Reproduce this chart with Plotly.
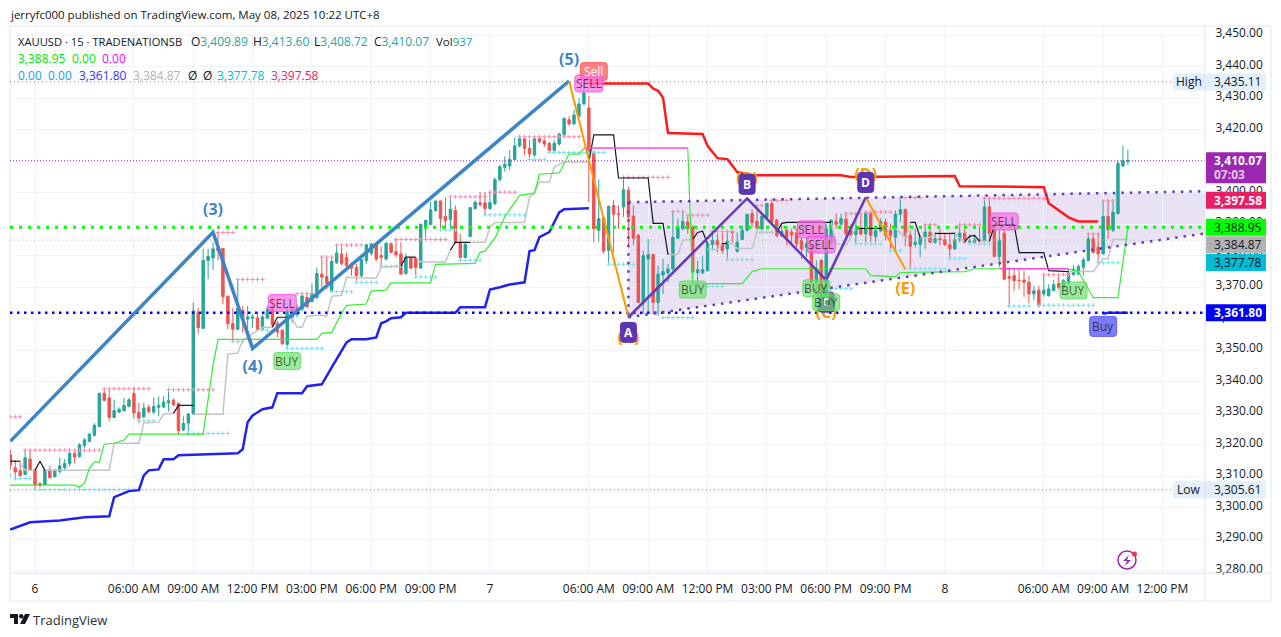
import plotly.graph_objects as go

FONT = "Open Sans"
UP = "#26a69a"
DOWN = "#ef5350"

# 15 minute bars, bar 0 is the "6" session label
bars = list(range(-5, 222))
opens = [
    3316.7, 3312.6, 3311.7, 3310.5, 3315.4,
    3311.9, 3307.6, 3307.3, 3311.9, 3309.8, 3311.4, 3312.6, 3314.0, 3317.2, 3316.2,
    3319.7, 3321.0, 3322.9, 3325.7, 3336.3, 3334.8, 3328.6, 3330.3, 3330.7, 3332.1,
    3336.2, 3330.2, 3328.8, 3331.8, 3330.3, 3331.8, 3331.9, 3333.2, 3334.1, 3333.1,
    3324.6, 3326.8, 3329.7, 3362.0, 3356.9, 3378.4, 3379.2, 3382.4, 3382.2, 3367.1,
    3358.4, 3356.6, 3362.6, 3359.8, 3360.1, 3360.2, 3356.6, 3360.1, 3363.7, 3358.5,
    3356.3, 3351.8, 3360.3, 3361.2, 3363.0, 3366.7, 3365.4, 3366.7, 3374.1, 3373.3,
    3368.8, 3377.7, 3380.5, 3379.4, 3377.3, 3376.2, 3373.6, 3378.4, 3380.7, 3383.4,
    3380.0, 3378.9, 3383.7, 3381.2, 3380.5, 3374.3, 3379.2, 3379.1, 3376.0, 3389.5,
    3389.9, 3394.3, 3397.3, 3392.4, 3391.4, 3394.3, 3384.2, 3379.4, 3386.0, 3394.9,
    3396.7, 3396.7, 3394.9, 3396.5, 3404.1, 3408.0, 3408.4, 3410.5, 3414.8, 3417.1,
    3414.0, 3411.9, 3417.1, 3416.4, 3415.6, 3413.3, 3415.4, 3418.3, 3423.1, 3421.8,
    3424.3, 3428.1, 3426.8, 3412.9, 3388.0, 3392.0, 3381.6, 3395.9, 3393.3, 3395.4,
    3400.7, 3392.5, 3386.4, 3365.1, 3378.9, 3380.3, 3365.1, 3373.8, 3374.5, 3375.7,
    3385.5, 3388.5, 3390.6, 3389.0, 3374.5, 3374.5, 3375.2, 3383.5, 3384.8, 3383.7,
    3382.1, 3387.7, 3381.3, 3385.1, 3388.0, 3393.3, 3390.8, 3388.5, 3392.2, 3396.5,
    3391.2, 3386.4, 3388.0, 3387.4, 3387.2, 3384.8, 3382.6, 3383.4, 3371.3, 3378.4,
    3368.3, 3384.2, 3390.8, 3389.9, 3391.5, 3387.8, 3386.7, 3388.5, 3386.9, 3393.5,
    3386.0, 3387.8, 3390.6, 3388.0, 3385.8, 3393.1, 3394.6, 3386.4, 3383.5, 3383.5,
    3385.8, 3387.4, 3384.2, 3385.3, 3385.0, 3383.4, 3382.1, 3385.0, 3387.1, 3384.2,
    3384.2, 3385.0, 3384.8, 3395.4, 3388.0, 3379.7, 3387.1, 3373.3, 3373.6, 3372.2,
    3372.2, 3371.5, 3367.8, 3369.0, 3367.8, 3367.2, 3368.8, 3371.1, 3369.7, 3371.2,
    3373.9, 3374.1, 3376.3, 3378.4, 3385.3, 3382.6, 3380.5, 3392.4, 3388.0, 3393.3,
    3408.4, 3409.89,
]
highs = [
    3318.3, 3315.1, 3314.6, 3318.0, 3317.8,
    3312.4, 3308.0, 3312.2, 3313.3, 3312.2, 3315.8, 3315.4, 3317.8, 3318.0, 3320.4,
    3322.0, 3323.6, 3326.8, 3336.4, 3337.4, 3337.4, 3334.2, 3331.8, 3334.8, 3334.8,
    3338.3, 3333.2, 3333.2, 3332.6, 3335.0, 3335.3, 3335.3, 3337.1, 3334.6, 3333.2,
    3328.9, 3330.0, 3365.1, 3363.3, 3382.1, 3382.1, 3384.2, 3387.4, 3382.3, 3367.2,
    3363.3, 3372.2, 3364.0, 3364.0, 3361.4, 3361.9, 3361.2, 3364.0, 3366.5, 3359.2,
    3356.6, 3364.0, 3364.0, 3364.5, 3367.4, 3368.3, 3371.1, 3376.2, 3379.6, 3379.4,
    3379.4, 3383.7, 3383.7, 3381.0, 3377.8, 3377.3, 3378.9, 3383.7, 3383.9, 3384.2,
    3382.9, 3384.2, 3384.2, 3385.3, 3384.2, 3380.7, 3379.4, 3379.4, 3390.1, 3391.5,
    3397.0, 3397.5, 3397.5, 3398.4, 3398.4, 3395.9, 3386.9, 3384.2, 3395.4, 3397.5,
    3400.2, 3400.2, 3400.2, 3404.8, 3408.7, 3411.4, 3413.5, 3417.5, 3418.0, 3417.5,
    3416.7, 3417.5, 3417.5, 3417.5, 3416.1, 3416.7, 3419.0, 3423.9, 3424.3, 3426.2,
    3430.0, 3435.11, 3430.7, 3412.9, 3404.1, 3392.2, 3395.9, 3397.5, 3395.9, 3404.4,
    3401.8, 3395.9, 3386.9, 3381.6, 3385.3, 3380.5, 3376.8, 3378.9, 3377.3, 3394.0,
    3391.7, 3394.0, 3392.8, 3389.6, 3378.4, 3380.0, 3384.2, 3388.0, 3386.9, 3387.4,
    3388.0, 3388.0, 3387.4, 3389.6, 3393.3, 3394.7, 3394.4, 3393.3, 3396.8, 3397.9,
    3391.7, 3389.6, 3389.0, 3388.5, 3388.5, 3385.8, 3385.8, 3383.4, 3378.4, 3378.9,
    3390.1, 3391.5, 3393.3, 3393.3, 3393.8, 3390.1, 3393.3, 3393.3, 3394.1, 3393.8,
    3389.2, 3391.7, 3391.7, 3390.1, 3394.3, 3398.4, 3394.9, 3388.0, 3388.5, 3386.4,
    3389.6, 3390.1, 3387.4, 3388.5, 3387.1, 3387.1, 3387.4, 3390.1, 3390.1, 3386.7,
    3386.7, 3389.6, 3398.4, 3398.4, 3390.1, 3388.0, 3388.5, 3376.3, 3376.0, 3375.7,
    3375.2, 3373.6, 3370.4, 3370.4, 3374.1, 3370.9, 3372.2, 3374.1, 3372.5, 3375.7,
    3377.0, 3377.1, 3379.5, 3386.9, 3387.1, 3387.1, 3397.5, 3397.8, 3397.8, 3410.1,
    3414.8, 3413.60,
]
lows = [
    3311.9, 3308.7, 3309.8, 3310.3, 3311.6,
    3305.61, 3306.4, 3307.1, 3309.0, 3309.5, 3310.8, 3311.9, 3313.0, 3314.0, 3315.8,
    3317.8, 3320.7, 3322.5, 3325.5, 3333.7, 3327.3, 3328.4, 3330.0, 3330.5, 3331.8,
    3328.2, 3326.8, 3328.4, 3330.0, 3329.7, 3328.9, 3331.6, 3330.5, 3332.1, 3323.3,
    3324.2, 3323.1, 3329.5, 3355.2, 3356.6, 3372.5, 3375.4, 3378.4, 3364.6, 3356.6,
    3352.7, 3356.3, 3355.5, 3356.6, 3357.1, 3356.3, 3356.3, 3359.8, 3357.1, 3354.1,
    3351.6, 3350.5, 3358.7, 3360.5, 3362.4, 3363.3, 3365.1, 3366.1, 3369.9, 3369.3,
    3368.3, 3377.3, 3376.8, 3375.7, 3373.6, 3371.5, 3373.1, 3377.3, 3380.0, 3378.1,
    3376.5, 3378.4, 3380.7, 3379.4, 3373.9, 3373.9, 3375.7, 3373.6, 3375.7, 3385.3,
    3389.5, 3393.8, 3388.5, 3388.0, 3388.0, 3383.7, 3378.4, 3379.2, 3385.8, 3394.5,
    3395.4, 3392.7, 3394.5, 3395.9, 3403.4, 3406.6, 3407.1, 3410.3, 3414.3, 3411.9,
    3410.3, 3411.4, 3415.6, 3414.5, 3412.6, 3412.2, 3414.8, 3417.9, 3421.1, 3421.4,
    3423.9, 3427.8, 3397.0, 3384.2, 3384.2, 3380.5, 3377.1, 3381.0, 3388.5, 3392.2,
    3382.8, 3383.2, 3365.0, 3361.7, 3361.4, 3361.4, 3360.8, 3367.8, 3371.5, 3375.2,
    3385.3, 3388.0, 3386.9, 3371.0, 3370.4, 3374.1, 3374.9, 3381.6, 3381.0, 3380.5,
    3378.4, 3384.2, 3381.0, 3384.8, 3387.7, 3389.0, 3388.0, 3388.0, 3391.9, 3390.1,
    3385.8, 3385.8, 3383.2, 3383.7, 3382.6, 3378.9, 3379.5, 3371.0, 3367.2, 3367.2,
    3365.1, 3383.7, 3388.5, 3389.6, 3385.8, 3385.8, 3383.7, 3386.4, 3384.2, 3384.2,
    3384.2, 3387.4, 3384.8, 3381.6, 3381.0, 3390.6, 3382.9, 3375.7, 3382.6, 3379.4,
    3382.1, 3383.9, 3383.7, 3383.2, 3382.9, 3378.9, 3381.8, 3384.2, 3383.9, 3383.5,
    3383.7, 3383.9, 3384.6, 3384.8, 3379.5, 3376.3, 3372.2, 3363.5, 3368.8, 3369.3,
    3366.9, 3364.8, 3365.8, 3363.5, 3366.9, 3367.0, 3368.8, 3369.3, 3369.0, 3370.4,
    3373.6, 3373.9, 3373.6, 3378.2, 3380.5, 3377.5, 3380.3, 3385.3, 3387.4, 3393.1,
    3408.0, 3408.72,
]
closes = [
    3313.5, 3311.3, 3310.1, 3315.8, 3311.9,
    3307.1, 3307.1, 3311.9, 3309.5, 3311.9, 3313.2, 3314.0, 3317.2, 3316.0, 3319.9,
    3321.5, 3323.3, 3326.1, 3336.3, 3334.0, 3328.6, 3330.8, 3331.2, 3332.4, 3334.2,
    3330.0, 3328.4, 3331.6, 3330.5, 3332.1, 3332.4, 3333.5, 3333.9, 3332.6, 3324.4,
    3326.7, 3329.7, 3362.4, 3357.1, 3378.4, 3379.7, 3382.1, 3381.6, 3366.9, 3358.4,
    3356.6, 3363.3, 3359.8, 3360.5, 3360.5, 3356.6, 3360.5, 3363.0, 3358.0, 3355.7,
    3352.0, 3361.9, 3363.0, 3363.3, 3367.2, 3363.7, 3367.9, 3374.3, 3373.1, 3371.2,
    3378.1, 3380.8, 3377.5, 3376.8, 3376.0, 3373.6, 3378.7, 3383.4, 3383.7, 3378.9,
    3379.4, 3383.9, 3381.0, 3380.2, 3374.1, 3379.4, 3376.0, 3376.2, 3389.9, 3391.1,
    3394.5, 3397.3, 3391.7, 3391.1, 3394.7, 3384.2, 3379.4, 3383.5, 3395.2, 3396.9,
    3396.2, 3394.9, 3396.8, 3404.1, 3408.2, 3409.0, 3410.5, 3414.8, 3417.1, 3414.0,
    3412.2, 3417.1, 3416.1, 3415.4, 3413.3, 3415.6, 3418.6, 3423.5, 3421.8, 3424.6,
    3428.1, 3431.6, 3412.9, 3388.5, 3391.7, 3381.4, 3395.6, 3393.1, 3393.0, 3400.9,
    3392.2, 3385.5, 3365.1, 3380.0, 3380.3, 3365.1, 3374.1, 3374.9, 3375.7, 3385.8,
    3389.0, 3390.8, 3388.5, 3374.7, 3375.5, 3375.5, 3383.7, 3384.8, 3383.4, 3381.6,
    3384.5, 3387.2, 3384.2, 3388.0, 3393.0, 3390.4, 3388.8, 3392.5, 3396.5, 3390.6,
    3386.4, 3387.6, 3385.8, 3386.6, 3383.7, 3382.1, 3383.7, 3371.5, 3375.5, 3367.8,
    3388.5, 3391.2, 3389.9, 3391.7, 3386.9, 3386.4, 3388.5, 3386.9, 3393.5, 3386.4,
    3388.0, 3390.8, 3386.4, 3386.4, 3393.1, 3394.6, 3385.8, 3382.9, 3384.2, 3385.8,
    3387.4, 3384.2, 3385.3, 3385.1, 3383.5, 3382.1, 3385.0, 3387.1, 3384.2, 3384.6,
    3385.0, 3384.6, 3395.4, 3387.1, 3379.7, 3384.8, 3372.5, 3372.8, 3372.0, 3372.0,
    3371.5, 3367.8, 3368.8, 3364.0, 3369.0, 3369.4, 3370.7, 3369.9, 3372.0, 3374.4,
    3375.7, 3376.5, 3378.6, 3385.3, 3381.0, 3380.5, 3392.4, 3388.2, 3393.8, 3409.2,
    3410.1, 3410.07,
]

# indicator lines
slow_x = [-5, -1, 5, 10, 15, 16, 19, 21, 22, 23, 25, 26, 28, 29, 41, 42, 43, 44, 46, 48, 49, 54, 55, 58,
          60, 63, 64, 67, 69, 70, 71, 72, 74, 75, 85, 86, 91, 92, 94, 96, 99, 100, 101, 102, 104, 106, 107, 112,
          None, 216, 217, 221]
slow_y = [3293.0, 3295.3, 3295.9, 3296.9, 3297.2, 3303.3, 3305.2, 3305.5, 3310.2, 3311.8, 3312.1, 3315.3,
          3315.3, 3316.6, 3317.2, 3318.5, 3327.1, 3329.2, 3331.2, 3331.8, 3336.3, 3336.3, 3338.5, 3339.1,
          3344.5, 3352.4, 3353.4, 3353.4, 3354.0, 3358.5, 3359.1, 3360.1, 3360.4, 3361.8, 3361.8, 3363.6,
          3363.6, 3369.2, 3369.9, 3370.8, 3371.5, 3381.4, 3381.7, 3385.8, 3387.4, 3393.7, 3394.7, 3395.0,
          None, 3361.5, 3361.8, 3361.8]

red_x = [112, 124, 125, 126, 127, 128, 135, 136, 138, 140, 142, 145, 163, 165, 186, 187, 204, 205, 209, 211, 215]
red_y = [3434.6, 3434.6, 3433.0, 3432.3, 3430.1, 3418.9, 3418.6, 3414.8, 3410.9, 3410.6, 3406.5, 3405.5,
         3405.5, 3404.9, 3405.2, 3402.0, 3401.7, 3396.6, 3392.1, 3390.8, 3390.8]

green_x = [-5, 8, 9, 10, 11, 12, 13, 14, 16, 18, 19, 34, 36, 37, 57, 58, 60, 62, 63, 67, 68, 71, 72, 80, 81,
           89, 90, 91, 93, 95, 98, 101, 102, 106, 108, 110, 111,
           None, 132, 133, 143, 145, 147, 168, 169, 174, 175, 188, 190, 195,
           None, 209, 211, 214, 219, 221]
green_y = [3307.1, 3307.1, 3306.5, 3307.7, 3312.5, 3314.4, 3314.4, 3320.1, 3320.4, 3321.4, 3323.3, 3323.3,
           3345.2, 3353.4, 3353.4, 3355.3, 3355.6, 3361.7, 3364.2, 3364.6, 3368.7, 3369.0, 3371.3, 3371.3,
           3377.2, 3377.5, 3381.0, 3381.4, 3385.5, 3392.4, 3399.1, 3399.8, 3405.8, 3406.2, 3412.2, 3412.2, 3414.1,
           None, 3414.1, 3371.1, 3371.1, 3374.9, 3375.8, 3375.8, 3373.6, 3373.3, 3374.6, 3374.9, 3375.8, 3375.8,
           None, 3375.8, 3374.9, 3366.6, 3366.6, 3388.95]

magenta_x = [111, 132, None, 195, 209]
magenta_y = [3414.1, 3414.1, None, 3375.8, 3375.8]

gray_x = [-3, -2, 0, None, 2, 15, 16, 21, 22, 25, 26, 28, None, 32, 38, 39, 41, 42, 46, 48, None, 51, 52, 53,
          54, 55, 58, 59, 60, 62, 63, 69, 70, 74, None, 77, 78, 83, 84, None, 88, 91, 92, 93, 99, 100, 101, 102,
          104, 105, 107, 112, None, 128, 130, 131, 132, 133, None, 136, 138, 139, None, 140, 141, 142, 145, 146,
          150, None, 161, 162, 164, 166, None, 172, 174, 176, 177, None, 179, 181, 182, None, 186, 187, 188,
          None, 191, 193, None, 209, 214, 216, 217, 218, 221]
gray_y = [3314.0, 3311.8, 3311.8, None, 3311.8, 3311.8, 3320.4, 3320.4, 3326.8, 3327.1, 3329.6, 3329.9, None,
          3329.6, 3329.6, 3348.7, 3349.0, 3353.1, 3357.2, 3357.2, None, 3360.2, 3360.2, 3357.2, 3357.2, 3360.7,
          3361.1, 3360.7, 3367.1, 3367.4, 3373.1, 3372.8, 3376.3, 3376.6, None, 3379.5, 3377.9, 3377.9, 3381.7,
          None, 3384.2, 3384.2, 3388.9, 3390.5, 3390.5, 3398.5, 3399.8, 3403.3, 3403.3, 3408.1, 3409.7, 3409.7,
          None, 3380.3, 3380.3, 3384.8, 3385.1, 3385.1, None, 3381.9, 3381.9, 3383.8, None, 3383.8, 3383.8,
          3382.2, 3382.2, 3387.3, 3387.3, None, 3390.5, 3383.8, 3383.2, 3388.6, None, 3388.6, 3388.6, 3385.7,
          3390.5, None, 3385.7, 3385.7, 3387.0, None, 3387.0, 3385.4, 3384.5, None, 3384.5, 3384.5, None,
          3374.9, 3374.9, 3379.0, 3379.0, 3385.1, 3385.1]

black_x = [-5, -3, None, 0, 1, 2, None, 28, 29, 32, None, 48, 49, 51, None, 74, 75, 77, None, 84, 85, 88, None,
           112, 113, 117, 118, 124, 125, 127, 128, None, 133, 134, 135, 136, None, 139, 140, None, 150, 151, 152,
           161, None, 166, 172, None, 177, 178, 179, None, 182, 186, None, 188, 189, 190, 191, None,
           193, 194, 198, 199, 204, 205, 209]
black_y = [3314.7, 3314.7, None, 3311.8, 3314.7, 3311.8, None, 3329.9, 3332.4, 3332.4, None, 3357.2, 3360.4,
           3360.4, None, 3376.6, 3379.5, 3379.5, None, 3381.7, 3384.2, 3384.2, None, 3409.7, 3418.3, 3418.3,
           3404.6, 3404.6, 3390.2, 3390.2, 3380.3, None, 3385.1, 3387.3, 3387.7, 3383.8, None, 3383.8, 3383.8,
           None, 3387.3, 3390.2, 3390.5, 3390.5, None, 3388.6, 3388.6, None, 3390.5, 3390.5, 3385.7, None,
           3387.0, 3387.0, None, 3384.5, 3386.1, 3386.4, 3384.5, None, 3384.5, 3389.6, 3389.9, 3380.9, 3380.9,
           3375.2, 3374.9]

# drawn waves
wave_blue_x = [-5, 36, 44, 108]
wave_blue_y = [3321.0, 3387.4, 3350.5, 3435.4]
wave_orange_x = [108, 120, None, 168, 176]
wave_orange_y = [3435.4, 3360.4, None, 3398.5, 3375.6]
wave_purple_x = [120, 144, 160, 168]
wave_purple_y = [3360.4, 3398.1, 3372.2, 3398.5]

wedge_x = [120, 236.6, 236.6, 120]
wedge_y = [3396.9, 3400.4, 3387.0, 3360.4]
wedge_left = 120

wave_label_x = [36, 44, 108]
wave_label_y = [3394.0, 3344.2, 3441.7]
wave_label_text = ["(3)", "(4)", "(5)"]
pattern_label_x = [120, 144, 160, 168, 176]
pattern_label_y = [3353.4, 3403.9, 3361.4, 3405.2, 3369.0]
pattern_label_text = ["(A)", "(B)", "(C)", "(D)", "(E)"]

# runs of + markers: first bar, last bar, level
pink_runs = [
    (-5, -3, 3328.8), (-2, 13, 3318.2), (14, 23, 3337.7), (27, 36, 3337.4), (37, 40, 3387.3), (41, 46, 3372.4),
    (53, 57, 3367.9), (58, 60, 3379.5), (61, 66, 3383.3), (73, 83, 3385.1), (84, 91, 3398.6), (92, 97, 3400.1),
    (98, 110, 3417.7), (119, 128, 3404.8), (129, 131, 3394.0), (132, 136, 3392.8), (137, 141, 3387.6),
    (146, 147, 3395.9), (149, 152, 3397.5), (164, 167, 3393.3), (168, 173, 3393.8), (175, 179, 3398.4),
    (180, 182, 3389.8), (187, 191, 3389.8), (192, 204, 3398.1), (204, 209, 3373.9), (213, 215, 3386.9),
    (216, 218, 3397.3),
]
cyan_runs = [
    (-5, -5, 3310.1), (-4, -1, 3309.2), (0, 21, 3305.7), (21, 24, 3327.5), (31, 39, 3323.5), (40, 42, 3352.7),
    (46, 47, 3356.3), (51, 58, 3350.5), (60, 64, 3368.5), (65, 69, 3371.4), (70, 74, 3376.6), (77, 81, 3373.2),
    (82, 85, 3388.1), (86, 90, 3378.5), (91, 99, 3392.9), (100, 103, 3410.5), (104, 115, 3412.7),
    (116, 121, 3377.2), (127, 133, 3360.3), (136, 139, 3370.2), (140, 145, 3378.7), (146, 149, 3387.4),
    (161, 165, 3369.5), (166, 171, 3383.7), (173, 175, 3381.5), (177, 184, 3375.8), (185, 188, 3379.0),
    (189, 193, 3383.7), (197, 201, 3363.9), (203, 214, 3364.2), (215, 219, 3377.7),
]

# level lines
last_close = 3410.07
ema_level = 3388.95
support_level = 3361.80
basis_level = 3384.87
cyan_level = 3377.78
pink_level = 3397.58
high_level = 3435.11
low_level = 3305.61

# signal boxes: bar, price
sell_signals = [(50, 3364.9), (112, 3434.6), (157, 3388.3), (159, 3383.5), (196, 3390.8)]
buy_signals = [(51, 3346.5), (133, 3369.2), (158, 3369.6), (160, 3365.2), (210, 3368.9)]
letter_boxes = [(120, 3355.6, "A", "#5e35b1"), (144, 3402.6, "B", "#5e35b1"), (168, 3403.2, "D", "#5e35b1"),
                (160, 3365.2, "C", "#5e35b1")]

tick_prices = list(range(3280, 3460, 10))
time_ticks = [0, 20, 32, 44, 56, 68, 80, 92, 112, 124, 136, 148, 160, 172, 184, 204, 216, 228]
time_labels = ["6", "06:00 AM", "09:00 AM", "12:00 PM", "03:00 PM", "06:00 PM", "09:00 PM", "7",
               "06:00 AM", "09:00 AM", "12:00 PM", "03:00 PM", "06:00 PM", "09:00 PM", "8",
               "06:00 AM", "09:00 AM", "12:00 PM"]

# header legend: left pixel, row pixel, text
TEAL = "#26a69a"
legend_items = [
    (18, 41.5, "XAUUSD · 15 · TRADENATIONSB", "#131722", 11.2),
    (191, 41.5, f"O<span style='color:{TEAL}'>3,409.89</span>", "#131722", 12),
    (253, 41.5, f"H<span style='color:{TEAL}'>3,413.60</span>", "#131722", 12),
    (314, 41.5, f"L<span style='color:{TEAL}'>3,408.72</span>", "#131722", 12),
    (374, 41.5, f"C<span style='color:{TEAL}'>3,410.07</span>", "#131722", 12),
    (436, 41.5, f"Vol<span style='color:{TEAL}'>937</span>", "#131722", 11.5),
    (18, 58.5, "3,388.95", "#00e600", 12),
    (72, 58.5, "0.00", "#00e600", 12),
    (102, 58.5, "0.00", "#ff00ff", 12),
    (18, 75.5, "0.00", "#2196f3", 12),
    (48, 75.5, "0.00", "#2196f3", 12),
    (79, 75.5, "3,361.80", "#3333ff", 12),
    (133, 75.5, "3,384.87", "#b2b2b2", 12),
    (188, 75.5, "Ø", "#131722", 12),
    (203, 75.5, "Ø", "#131722", 12),
    (217, 75.5, "3,377.78", "#00bcd4", 12),
    (271, 75.5, "3,397.58", "#e91e63", 12),
]

# page layout in pixels
PLOT_L, PLOT_R, PLOT_T, PLOT_B = 10, 1205, 27, 573
X_RANGE = [-5.06, 236.6]
Y_RANGE = [3279.21, 3452.54]


def paper_x(px):
    return (px - PLOT_L) / (PLOT_R - PLOT_L)


def paper_y(py):
    return (PLOT_B - py) / (PLOT_B - PLOT_T)


def round_path(x0, x1, y0, y1, r=3):
    return (f"M{x0 + r},{y0} L{x1 - r},{y0} Q{x1},{y0} {x1},{y0 + r} L{x1},{y1 - r} Q{x1},{y1} {x1 - r},{y1} "
            f"L{x0 + r},{y1} Q{x0},{y1} {x0},{y1 - r} L{x0},{y0 + r} Q{x0},{y0} {x0 + r},{y0} Z")


shapes = []
annotations = []


def note(text, x, y, size=12, color="#131722", xanchor="center", xref="paper", yref="paper", **kw):
    annotations.append(dict(text=text, x=x, y=y, xref=xref, yref=yref, xanchor=xanchor, yanchor="middle",
                            showarrow=False, font=dict(family=FONT, size=size, color=color), **kw))


def signal(bar, price, text, fill, line, color, w=28, h=17):
    shapes.append(dict(type="path", xref="x", yref="y", xsizemode="pixel", ysizemode="pixel",
                       xanchor=bar, yanchor=price, path=round_path(-w / 2, w / 2, -h / 2, h / 2),
                       fillcolor=fill, line=dict(color=line, width=1), layer="above"))
    note(text, bar, price, color=color, xref="x", yref="y")


def price_tag(price, text, fill, color, top=8.5, bottom=8.5, x0=1, x1=61, shift=0):
    # shift pushes a tag down when it would collide with the one above
    shapes.append(dict(type="path", xref="paper", yref="y", xsizemode="pixel", ysizemode="pixel",
                       xanchor=1, yanchor=price,
                       path=f"M{x0},{-bottom - shift} L{x1},{-bottom - shift} L{x1},{top - shift} L{x0},{top - shift} Z",
                       fillcolor=fill, line=dict(width=0), layer="above"))
    note(text, 1, price, color=color, xanchor="left", yref="y", xshift=7, yshift=-shift)


fig = go.Figure()


def line_trace(x, y, color, width, dash="solid"):
    fig.add_trace(go.Scatter(x=x, y=y, mode="lines", line=dict(color=color, width=width, dash=dash),
                             connectgaps=False, hoverinfo="skip"))


def level_line(level, color, width, dash, x1=236.6):
    line_trace([X_RANGE[0], x1], [level, level], color, width, dash)


def plus_trace(runs, color):
    xs = [b for first, last, _ in runs for b in range(first, last + 1)]
    ys = [lvl for first, last, lvl in runs for _ in range(first, last + 1)]
    fig.add_trace(go.Scatter(x=xs, y=ys, mode="markers", hoverinfo="skip",
                             marker=dict(symbol="cross-thin", size=3, line=dict(color=color, width=1))))


fig.add_trace(go.Candlestick(
    x=bars, open=opens, high=highs, low=lows, close=closes, whiskerwidth=0,
    increasing=dict(line=dict(color=UP, width=1), fillcolor=UP),
    decreasing=dict(line=dict(color=DOWN, width=1), fillcolor=DOWN),
))

level_line(high_level, "#787b86", 1, "1px,3px", 230.5)
level_line(low_level, "#787b86", 1, "1px,3px", 230.5)
level_line(basis_level, "#b2b2b2", 1, "1px,3px")
level_line(last_close, "#9c27b0", 1, "1px,2px")

plus_trace(pink_runs, "#f48fb1")
plus_trace(cyan_runs, "#80deea")

line_trace(gray_x, gray_y, "#c4c4c4", 1.5)
line_trace(black_x, black_y, "#131722", 1.2)
line_trace(green_x, green_y, "#33ee33", 1.2)
line_trace(magenta_x, magenta_y, "#ff44dd", 1.5)
line_trace(slow_x, slow_y, "#2222ee", 2.5)
line_trace(red_x, red_y, "#ff1a1a", 2.5)

level_line(ema_level, "#00ff00", 3, "3px,6px")
level_line(support_level, "#0000ff", 2.5, "2.5px,4.5px")

# wedge outline
line_trace([wedge_x[0], wedge_x[1], None, wedge_x[3], wedge_x[2], None, wedge_left, wedge_left],
           [wedge_y[0], wedge_y[1], None, wedge_y[3], wedge_y[2], None, wedge_y[0], wedge_y[3]],
           "#673ab7", 2.5, "2.5px,6px")
line_trace(wave_blue_x, wave_blue_y, "#3d85c6", 3.5)
line_trace(wave_orange_x, wave_orange_y, "#ff9800", 2)
line_trace(wave_purple_x, wave_purple_y, "#673ab7", 2.5)

fig.add_trace(go.Scatter(x=wave_label_x, y=wave_label_y, mode="text", text=wave_label_text, hoverinfo="skip",
                         textfont=dict(family=FONT, size=16, color="#3d85c6", weight="bold")))
fig.add_trace(go.Scatter(x=pattern_label_x, y=pattern_label_y, mode="text", text=pattern_label_text,
                         hoverinfo="skip", textfont=dict(family=FONT, size=16, color="#ff9800", weight="bold")))

# wedge fill sits under the candles
wedge_path = "M" + " L".join(f"{x},{y}" for x, y in zip(wedge_x, wedge_y)) + " Z"
shapes.append(dict(type="path", xref="x", yref="y", path=wedge_path, fillcolor="rgba(103,58,183,0.15)",
                   line=dict(width=0), layer="below"))

for bar, price, text, fill in letter_boxes:
    signal(bar, price, f"<b>{text}</b>", fill, fill, "#ffffff", w=16, h=20)

signal(113, 3438.4, "Sell", "rgba(247,82,82,0.72)", "rgba(247,82,82,0.8)", "#ffffff", w=27, h=18)
for bar, price in sell_signals:
    signal(bar, price, "SELL", "rgba(250,110,225,0.72)", "rgba(250,70,225,0.8)", "rgba(19,23,34,0.7)")
for bar, price in buy_signals:
    signal(bar, price, "BUY", "rgba(105,225,105,0.68)", "rgba(90,215,90,0.8)", "rgba(19,23,34,0.7)", w=27)
signal(216, 3357.5, "Buy", "rgba(90,90,250,0.8)", "rgba(90,90,250,0.9)", "rgba(19,23,34,0.75)", w=27, h=20)

# right hand price tags
price_tag(last_close, "<b>3,410.07</b>", "#9c27b0", "#ffffff", top=8.5, bottom=22.5)
note("<b>07:03</b>", 1, 3405.8, color="#e3c6ea", xanchor="left", yref="y", xshift=7)
price_tag(pink_level, "<b>3,397.58</b>", "#e91e63", "#ffffff")
price_tag(ema_level, "3,388.95", "#00ff00", "#131722")
price_tag(basis_level, "3,384.87", "#b2b2b2", "#131722", shift=4.5)
price_tag(cyan_level, "3,377.78", "#00bcd4", "#131722")
price_tag(support_level, "<b>3,361.80</b>", "#0000ff", "#ffffff")
price_tag(high_level, "3,435.11", "#e3effd", "#131722", x0=-32)
price_tag(low_level, "3,305.61", "#e3effd", "#131722", x0=-32)
note("High", 1, high_level, xanchor="right", yref="y", xshift=-1)
note("Low", 1, low_level, xanchor="right", yref="y", xshift=-3)

# chart frame and axis separators
shapes.append(dict(type="rect", xref="paper", yref="paper", x0=paper_x(10), x1=paper_x(1271), y0=paper_y(26),
                   y1=paper_y(601), line=dict(color="#f0f3fa", width=2), layer="below"))
shapes.append(dict(type="line", xref="paper", yref="paper", x0=1, x1=1, y0=paper_y(601), y1=paper_y(26),
                   line=dict(color="#e0e3eb", width=1), layer="above"))
shapes.append(dict(type="line", xref="paper", yref="paper", x0=0, x1=paper_x(1271), y0=0, y1=0,
                   line=dict(color="#e0e3eb", width=1), layer="above"))

# replay icon
shapes.append(dict(type="circle", xref="paper", yref="paper", x0=paper_x(1118), x1=paper_x(1136), y0=paper_y(569),
                   y1=paper_y(551), line=dict(color="#9c27b0", width=1.5), layer="above"))
bolt = [(1129, 555), (1123, 561), (1127, 561), (1125, 566), (1131, 560), (1127, 560)]
shapes.append(dict(type="path", xref="paper", yref="paper",
                   path="M" + " L".join(f"{paper_x(x)},{paper_y(y)}" for x, y in bolt) + " Z",
                   fillcolor="#9c27b0", line=dict(width=0), layer="above"))
shapes.append(dict(type="circle", xref="paper", yref="paper", x0=paper_x(1132), x1=paper_x(1137), y0=paper_y(556.5),
                   y1=paper_y(551.5), fillcolor="#f23645", line=dict(width=0), layer="above"))

# TradingView mark
logo_parts = [
    [(10, 614), (18, 614), (18, 624), (14, 624), (14, 618), (10, 618)],
    [(25, 614), (30, 614), (25, 624), (20, 624)],
]
for part in logo_parts:
    shapes.append(dict(type="path", xref="paper", yref="paper",
                       path="M" + " L".join(f"{paper_x(x)},{paper_y(y)}" for x, y in part) + " Z",
                       fillcolor="#131722", line=dict(width=0)))
shapes.append(dict(type="circle", xref="paper", yref="paper", x0=paper_x(19), x1=paper_x(23.5), y0=paper_y(618.5),
                   y1=paper_y(614), fillcolor="#131722", line=dict(width=0)))

note("jerryfc000 published on TradingView.com, May 08, 2025 10:22 UTC+8", paper_x(8), paper_y(14.5),
     size=11.5, xanchor="left")
note("TradingView", paper_x(31), paper_y(619.5), size=13, color="#2a2e39", xanchor="left")

for px, py, text, color, size in legend_items:
    note(text, paper_x(px - 2), paper_y(py), size=size, color=color, xanchor="left")

fig.update_layout(
    width=1281, height=637, showlegend=False, paper_bgcolor="white", plot_bgcolor="white",
    margin=dict(l=PLOT_L, r=1281 - PLOT_R, t=PLOT_T, b=637 - PLOT_B, pad=0),
    font=dict(family=FONT, size=12, color="#131722"),
    shapes=shapes, annotations=annotations,
    xaxis=dict(range=X_RANGE, rangeslider=dict(visible=False), tickmode="array", tickvals=time_ticks,
               ticktext=time_labels, showgrid=True, gridcolor="#f0f3fa", zeroline=False, ticks="outside",
               ticklen=5, tickcolor="rgba(0,0,0,0)", tickfont=dict(family=FONT, size=12, color="#131722")),
    yaxis=dict(range=Y_RANGE, side="right", tickmode="array", tickvals=tick_prices, tickformat=",.2f",
               showgrid=True, gridcolor="#f0f3fa", zeroline=False, ticks="outside", ticklen=7, ticklabelshift=-2,
               tickcolor="rgba(0,0,0,0)", tickfont=dict(family=FONT, size=12, color="#131722")),
)

fig.write_html("out.html", config={"displayModeBar": False}, post_script="document.body.style.margin='0';")
